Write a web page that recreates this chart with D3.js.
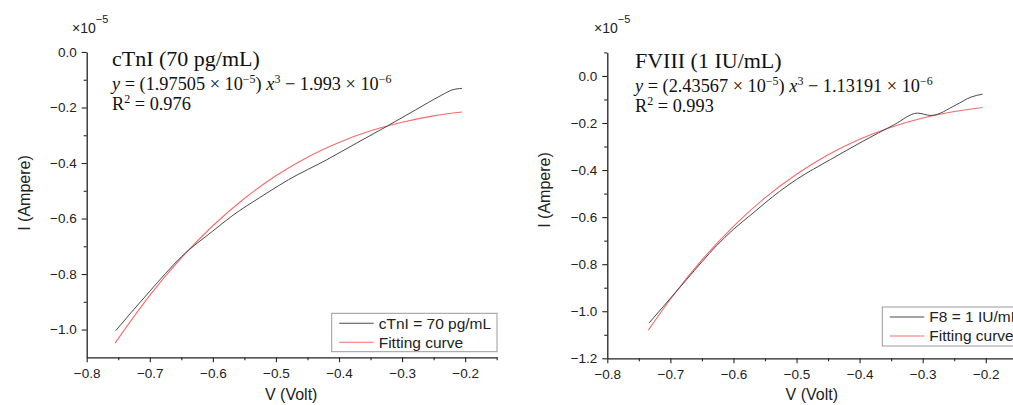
<!DOCTYPE html>
<html>
<head>
<meta charset="utf-8">
<script src="https://cdn.jsdelivr.net/npm/d3@7"></script>
<style>
  html, body { margin: 0; padding: 0; background: #fff; }
  svg { display: block; }
  .tick text { font-family: "Liberation Sans", Arial, sans-serif; font-size: 13.5px; fill: #222; }
</style>
</head>
<body>
<svg id="chart" width="1013" height="405"></svg>
<script>
// ---------- Data (current in units of 1e-5 A) ----------
const xTickValues = [-0.8, -0.7, -0.6, -0.5, -0.4, -0.3, -0.2];
const xMinorValues = [-0.75, -0.65, -0.55, -0.45, -0.35, -0.25, -0.15];
const leftYTickValues = [0.0, -0.2, -0.4, -0.6, -0.8, -1.0];
const leftYMinorValues = [-0.1, -0.3, -0.5, -0.7, -0.9];
const rightYTickValues = [0.0, -0.2, -0.4, -0.6, -0.8, -1.0, -1.2];
const rightYMinorValues = [0.1, -0.1, -0.3, -0.5, -0.7, -0.9, -1.1];

// cTnI (70 pg/mL) measured
const cTnIV = [-0.754, -0.73, -0.70, -0.675, -0.65, -0.60, -0.568, -0.526, -0.48, -0.42, -0.372, -0.3235, -0.279, -0.237, -0.221, -0.205];
const cTnII = [-1.004, -0.940, -0.862, -0.798, -0.738, -0.645, -0.588, -0.525, -0.460, -0.389, -0.328, -0.267, -0.209, -0.155, -0.137, -0.131];
// cTnI fitting curve
const cTnIFitV = [-0.755, -0.70, -0.65, -0.60, -0.55, -0.50, -0.45, -0.40, -0.35, -0.30, -0.25, -0.205];
const cTnIFitI = [-1.049, -0.877, -0.742, -0.626, -0.528, -0.446, -0.379, -0.326, -0.284, -0.253, -0.230, -0.216];

// FVIII (1 IU/mL) measured
const f8V = [-0.7335, -0.70, -0.6744, -0.65, -0.627, -0.60, -0.569, -0.55, -0.527, -0.50, -0.446, -0.395, -0.345, -0.308, -0.287, -0.247, -0.2235, -0.205];
const f8I = [-1.049, -0.945, -0.866, -0.790, -0.722, -0.652, -0.583, -0.540, -0.491, -0.440, -0.355, -0.278, -0.207, -0.158, -0.168, -0.123, -0.090, -0.0775];
// FVIII fitting curve
const f8FitV = [-0.735, -0.70, -0.65, -0.60, -0.55, -0.50, -0.45, -0.40, -0.35, -0.30, -0.25, -0.205];
const f8FitI = [-1.080, -0.949, -0.782, -0.639, -0.518, -0.418, -0.335, -0.269, -0.218, -0.179, -0.151, -0.134];

const panels = [
  {
    xRange: [86.7, 496.7], yDomain: [-1.1, 0.0], yRange: [357.3, 52],
    yTicks: leftYTickValues, yMinor: leftYMinorValues,
    measV: cTnIV, measI: cTnII, fitV: cTnIFitV, fitI: cTnIFitI,
    title: "cTnI (70 pg/mL)", c1: "1.97505", c0: "1.993", r2: "0.976",
    legend1: "cTnI = 70 pg/mL",
    ann: { x: 112, y: 66 }, exp: { x: 72, y: 33 }, ylab: { x: 30, y: 193 },
    leg: { x: 331.7, y: 313.3, w: 165.3, h: 38.4 }
  },
  {
    xRange: [607.3, 1017.3], yDomain: [-1.2, 0.1], yRange: [358.3, 52.4],
    yTicks: rightYTickValues, yMinor: rightYMinorValues,
    measV: f8V, measI: f8I, fitV: f8FitV, fitI: f8FitI,
    title: "FVIII (1 IU/mL)", c1: "2.43567", c0: "1.13191", r2: "0.993",
    legend1: "F8 = 1 IU/mL",
    ann: { x: 635, y: 68 }, exp: { x: 594, y: 33 }, ylab: { x: 550, y: 190 },
    leg: { x: 882.3, y: 307, w: 165.3, h: 39 }
  }
];

const svg = d3.select("#chart");
const fmt = d3.format(".1f");
const serif = "'Liberation Serif', 'Times New Roman', serif";
const sans = "'Liberation Sans', Arial, sans-serif";

panels.forEach(p => {
  const x = d3.scaleLinear().domain([-0.8, -0.15]).range(p.xRange);
  const y = d3.scaleLinear().domain(p.yDomain).range(p.yRange);
  const g = svg.append("g");
  const x0 = p.xRange[0], yb = p.yRange[0];

  // minor ticks
  g.append("g").attr("transform", `translate(0,${yb})`)
    .call(d3.axisBottom(x).tickValues(xMinorValues).tickSize(3).tickSizeOuter(0).tickFormat(""))
    .call(s => s.select(".domain").remove())
    .call(s => s.selectAll("line").attr("stroke", "#222").attr("stroke-width", 1.1));
  g.append("g").attr("transform", `translate(${x0},0)`)
    .call(d3.axisLeft(y).tickValues(p.yMinor).tickSize(3).tickSizeOuter(0).tickFormat(""))
    .call(s => s.select(".domain").remove())
    .call(s => s.selectAll("line").attr("stroke", "#222").attr("stroke-width", 1.1));

  // major axes
  const xa = g.append("g").attr("transform", `translate(0,${yb})`)
    .call(d3.axisBottom(x).tickValues(xTickValues).tickSize(5).tickSizeOuter(0).tickFormat(fmt));
  xa.selectAll("text").attr("y", 11).attr("dy", "0.71em");
  const ya = g.append("g").attr("transform", `translate(${x0},0)`)
    .call(d3.axisLeft(y).tickValues(p.yTicks).tickSize(5).tickSizeOuter(0).tickFormat(fmt));
  ya.selectAll("text").attr("x", -10);
  [xa, ya].forEach(a => {
    a.select(".domain").attr("stroke", "#222").attr("stroke-width", 1.3);
    a.selectAll(".tick line").attr("stroke", "#222").attr("stroke-width", 1.1);
  });

  // curves
  const measured = p.measV.map((v, i) => [v, p.measI[i]]);
  const fitted = p.fitV.map((v, i) => [v, p.fitI[i]]);
  const line = d3.line().x(d => x(d[0])).y(d => y(d[1])).curve(d3.curveMonotoneX);
  g.append("path").datum(fitted).attr("d", line)
    .attr("fill", "none").attr("stroke", "#f36b6b").attr("stroke-width", 1.1);
  g.append("path").datum(measured).attr("d", line)
    .attr("fill", "none").attr("stroke", "#4a4a4a").attr("stroke-width", 1);

  // exponent label
  const ex = g.append("text").attr("x", p.exp.x).attr("y", p.exp.y)
    .attr("font-family", sans).attr("font-size", 14).attr("fill", "#222");
  ex.append("tspan").text("×10");
  ex.append("tspan").attr("dy", -10).attr("font-size", 11).text("−5");

  // axis labels
  g.append("text").attr("transform", `translate(${p.ylab.x},${p.ylab.y}) rotate(-90)`)
    .attr("text-anchor", "middle").attr("font-family", sans).attr("font-size", 16)
    .attr("fill", "#222").text("I (Ampere)");
  g.append("text").attr("x", x(-0.475) - 0.5).attr("y", 400)
    .attr("text-anchor", "middle").attr("font-family", sans).attr("font-size", 16)
    .attr("fill", "#222").text("V (Volt)");

  // annotation
  g.append("text").attr("x", p.ann.x).attr("y", p.ann.y)
    .attr("font-family", serif).attr("font-size", 22).attr("fill", "#111").text(p.title);
  const eq = g.append("text").attr("x", p.ann.x).attr("y", p.ann.y + 24)
    .attr("font-family", serif).attr("font-size", 18.3).attr("fill", "#111");
  eq.append("tspan").attr("font-style", "italic").text("y");
  eq.append("tspan").text(` = (${p.c1} × 10`);
  eq.append("tspan").attr("dy", -7).attr("font-size", 12).text("−5");
  eq.append("tspan").attr("dy", 7).text(") ");
  eq.append("tspan").attr("font-style", "italic").text("x");
  eq.append("tspan").attr("dy", -7).attr("font-size", 12).text("3");
  eq.append("tspan").attr("dy", 7).text(` − ${p.c0} × 10`);
  eq.append("tspan").attr("dy", -7).attr("font-size", 12).text("−6");
  const r = g.append("text").attr("x", p.ann.x).attr("y", p.ann.y + 44)
    .attr("font-family", serif).attr("font-size", 18.3).attr("fill", "#111");
  r.append("tspan").text("R");
  r.append("tspan").attr("dy", -7).attr("font-size", 12).text("2");
  r.append("tspan").attr("dy", 7).text(` = ${p.r2}`);

  // legend
  const L = p.leg;
  const lg = g.append("g").attr("transform", `translate(${L.x},${L.y})`);
  lg.append("rect").attr("width", L.w).attr("height", L.h)
    .attr("fill", "#fff").attr("stroke", "#9a9a9a").attr("stroke-width", 1);
  const items = [{ label: p.legend1, color: "#4a4a4a" }, { label: "Fitting curve", color: "#f36b6b" }];
  items.forEach((it, i) => {
    const cy = 10 + i * 19;
    lg.append("line").attr("x1", 7.5).attr("x2", 42).attr("y1", cy).attr("y2", cy)
      .attr("stroke", it.color).attr("stroke-width", 1.1);
    lg.append("text").attr("x", 47).attr("y", cy).attr("dy", "0.35em")
      .attr("font-family", sans).attr("font-size", 15.5).attr("fill", "#222").text(it.label);
  });
});
</script>
</body>
</html>
